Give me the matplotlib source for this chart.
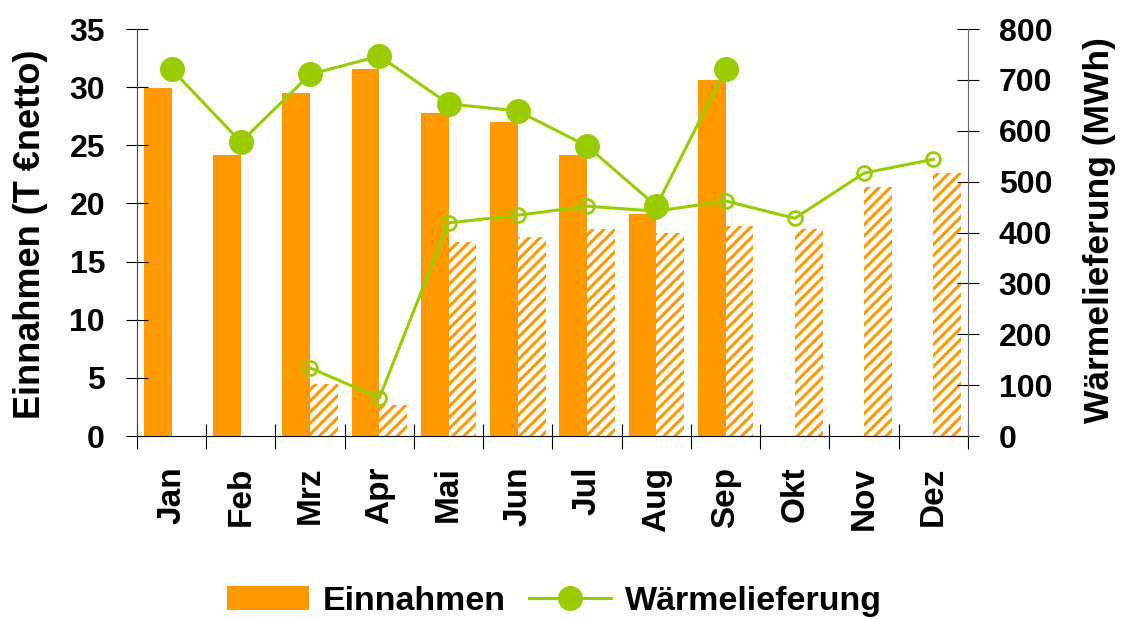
import matplotlib
matplotlib.use('Agg')
import matplotlib.pyplot as plt
from matplotlib.patches import Patch
from matplotlib.lines import Line2D
import numpy as np

plt.rcParams.update({'font.family': 'Liberation Sans', 'font.weight': 'bold',
                     'axes.labelweight': 'bold', 'font.size': 23,
                     'hatch.linewidth': 2.2})

months = ['Jan', 'Feb', 'Mrz', 'Apr', 'Mai', 'Jun', 'Jul', 'Aug', 'Sep', 'Okt', 'Nov', 'Dez']
# Einnahmen (T EUR netto), two years: solid and hatched bars
einnahmen_1 = [29.9, 24.2, 29.5, 31.6, 27.8, 27.0, 24.2, 19.1, 30.6, np.nan, np.nan, np.nan]
einnahmen_2 = [np.nan, np.nan, 4.5, 2.7, 16.7, 17.1, 17.8, 17.5, 18.1, 17.8, 21.4, 22.6]
# Waermelieferung (MWh), two years: filled and hollow markers
waerme_1 = [721, 578, 711, 747, 653, 639, 570, 452, 721, np.nan, np.nan, np.nan]
waerme_2 = [np.nan, np.nan, 134, 75, 419, 434, 452, 442, 462, 428, 517, 544]

orange = '#FF9900'
green = '#99CC00'

fig = plt.figure(figsize=(11.21, 6.19), dpi=100)
ax = fig.add_axes([0.1222, 0.2956, 0.7413, 0.6574])
ax2 = ax.twinx()

x = np.arange(len(months))
w = 0.4
ax.bar(x - w/2, einnahmen_1, width=w, color=orange, linewidth=0)
ax.bar(x + w/2, einnahmen_2, width=w, color='white', edgecolor=orange,
       hatch='///', linewidth=0)

ax2.plot(x, waerme_1, color=green, lw=2.2, marker='o', ms=17, mfc=green, mec=green)
ax2.plot(x, waerme_2, color=green, lw=2.2, marker='o', ms=10, mfc='none', mec=green, mew=2)

ax.set_xlim(-0.5, 11.5)
ax.set_ylim(0, 35)
ax2.set_ylim(0, 800)
ax.set_yticks(np.arange(0, 36, 5))
ax2.set_yticks(np.arange(0, 801, 100))

ax.set_xticks(x)
ax.set_xticklabels(months, rotation=90, fontsize=24)
ax.set_xticks(np.arange(-0.5, 12, 1), minor=True)
ax.tick_params(axis='x', which='major', length=0, pad=22)
ax.tick_params(axis='x', which='minor', direction='inout', length=18, width=0.8)
ax.tick_params(axis='y', direction='inout', length=16, width=0.8, pad=15)
ax2.tick_params(axis='y', direction='inout', length=16, width=0.8, pad=14)

for a in (ax, ax2):
    a.spines['top'].set_visible(False)
ax.spines['right'].set_visible(False)
ax2.spines['left'].set_visible(False)
ax2.spines['bottom'].set_visible(False)
ax.spines['left'].set_color('#444444')
ax2.spines['right'].set_color('#666666')
ax.spines['bottom'].set_color('black')

ax.set_ylabel('Einnahmen (T €netto)', fontsize=26)
ax.yaxis.label.set_va('center')
ax.yaxis.set_label_coords(-0.128, 0.496)
ax2.set_ylabel('Wärmelieferung (MWh)', fontsize=25.5)
ax2.yaxis.label.set_va('center')
ax2.yaxis.set_label_coords(1.158, 0.506)

handles = [Patch(facecolor=orange, edgecolor='none'),
           Line2D([], [], color=green, lw=2.2, marker='o', ms=17)]
fig.legend(handles, ['Einnahmen', 'Wärmelieferung'], loc='center',
           bbox_to_anchor=(0.4947, 0.029), ncol=2, frameon=False,
           handlelength=2.4, handletextpad=0.4, columnspacing=0.7, fontsize=24.5)

fig.savefig('out.png', dpi=100)
